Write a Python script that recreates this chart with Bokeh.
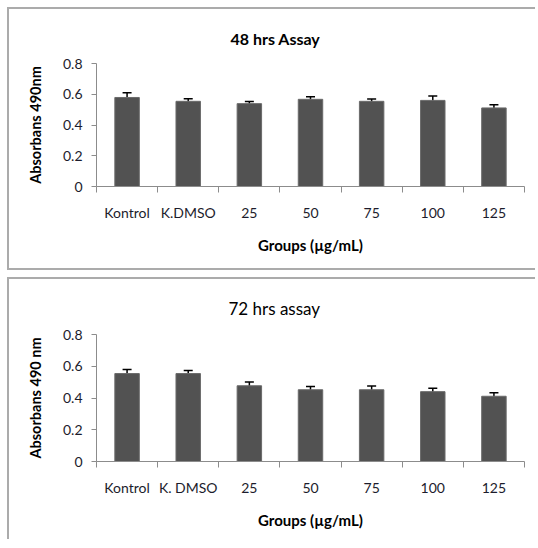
from bokeh.plotting import figure
from bokeh.models import (ColumnDataSource, Range1d, LinearAxis, FixedTicker, Whisker, TeeHead, Title)
from bokeh.layouts import column
from bokeh.embed import file_html
from bokeh.resources import INLINE

groups48 = ["Kontrol", "K.DMSO", "25", "50", "75", "100", "125"]
mean48 = [0.579, 0.554, 0.539, 0.567, 0.554, 0.560, 0.511]
err48 = [0.030, 0.017, 0.014, 0.017, 0.015, 0.029, 0.020]

groups72 = ["Kontrol", "K. DMSO", "25", "50", "75", "100", "125"]
mean72 = [0.554, 0.554, 0.477, 0.452, 0.452, 0.440, 0.411]
err72 = [0.025, 0.019, 0.024, 0.020, 0.024, 0.022, 0.022]

yticks = [0, 0.2, 0.4, 0.6, 0.8]
ytick_labels = ["0", "0.2", "0.4", "0.6", "0.8"]

FONT = "Lato"
TXT = "#1c1c2c"
BORDER = "2px solid #ababab"


def panel(title, groups, mean, err, ylabel, height, frame_h, title_size, title_style,
          title_offset, bottom_border):
    n = len(groups)
    p = figure(width=528, height=height, x_range=Range1d(0, n), y_range=Range1d(0, 0.8),
               x_axis_location=None, y_axis_location=None,
               output_backend="svg", toolbar_location=None, tools="",
               min_border_left=87, min_border_right=13, min_border_top=54,
               min_border_bottom=height - 54 - frame_h)
    st = {"border-top": BORDER, "border-left": BORDER}
    if bottom_border:
        st["border-bottom"] = BORDER
    p.styles = st
    p.outline_line_color = None
    p.xgrid.grid_line_color = None
    p.ygrid.grid_line_color = None
    p.background_fill_color = "white"

    centers = [i + 0.5 for i in range(n)]
    edges = [float(i) for i in range(n + 1)]
    src = ColumnDataSource(dict(x=centers, m=mean,
                                lo=[a - b for a, b in zip(mean, err)],
                                hi=[a + b for a, b in zip(mean, err)]))
    p.vbar(x="x", top="m", bottom=0, width=0.4, source=src,
           fill_color="#525252", line_color="#6a6a6a", line_width=1)
    w = Whisker(base="x", lower="lo", upper="hi", source=src, line_color="black", line_width=1.5,
                upper_head=TeeHead(size=9, line_color="black", line_width=1.5),
                lower_head=TeeHead(size=9, line_color="black", line_width=1.5))
    p.add_layout(w)

    # y axis
    ya = LinearAxis(ticker=FixedTicker(ticks=yticks),
                    major_label_overrides={t: l for t, l in zip(yticks, ytick_labels)})
    ya.axis_line_color = "#8c8c8c"
    ya.major_tick_line_color = "#8c8c8c"
    ya.major_tick_in = 0
    ya.major_tick_out = 5
    ya.minor_tick_line_color = None
    ya.major_label_text_font = FONT
    ya.major_label_text_font_size = "14px"
    ya.major_label_text_color = TXT
    ya.major_label_standoff = 9
    ya.axis_label = ylabel
    ya.axis_label_text_font = FONT
    ya.axis_label_text_font_size = "14.5px"
    ya.axis_label_text_font_style = "bold"
    ya.axis_label_text_color = "black"
    ya.axis_label_standoff = 16
    p.add_layout(ya, "left")

    # category axis: labels at centers, tick marks at category edges (minor ticks)
    ca = LinearAxis(ticker=FixedTicker(ticks=centers, minor_ticks=edges),
                    major_label_overrides={c: g for c, g in zip(centers, groups)})
    ca.axis_line_color = "#8c8c8c"
    ca.major_tick_line_color = None
    ca.major_tick_in = 0
    ca.major_tick_out = 0
    ca.minor_tick_line_color = "#8c8c8c"
    ca.minor_tick_in = 0
    ca.minor_tick_out = 6
    ca.major_label_text_font = FONT
    ca.major_label_text_font_size = "14px"
    ca.major_label_text_color = TXT
    ca.major_label_standoff = 11
    ca.axis_label = "Groups (µg/mL)"
    ca.axis_label_text_font = FONT
    ca.axis_label_text_font_size = "15px"
    ca.axis_label_text_font_style = "bold"
    ca.axis_label_text_color = "black"
    ca.axis_label_standoff = 12
    p.add_layout(ca, "below")

    p.title = Title(text=title, align="left", offset=title_offset, text_font=FONT,
                    text_font_size=title_size, text_font_style=title_style, text_color="black",
                    standoff=32)
    return p


p1 = panel("48 hrs Assay", groups48, mean48, err48, "Absorbans 490nm", 263, 123,
           "16px", "bold", 134, True)
p2 = panel("72 hrs assay", groups72, mean72, err72, "Absorbans 490 nm", 262, 128,
           "17px", "normal", 132, False)

layout = column(p1, p2, spacing=7, margin=(7, 0, 0, 7))
open("out.html", "w").write(file_html(layout, INLINE))
